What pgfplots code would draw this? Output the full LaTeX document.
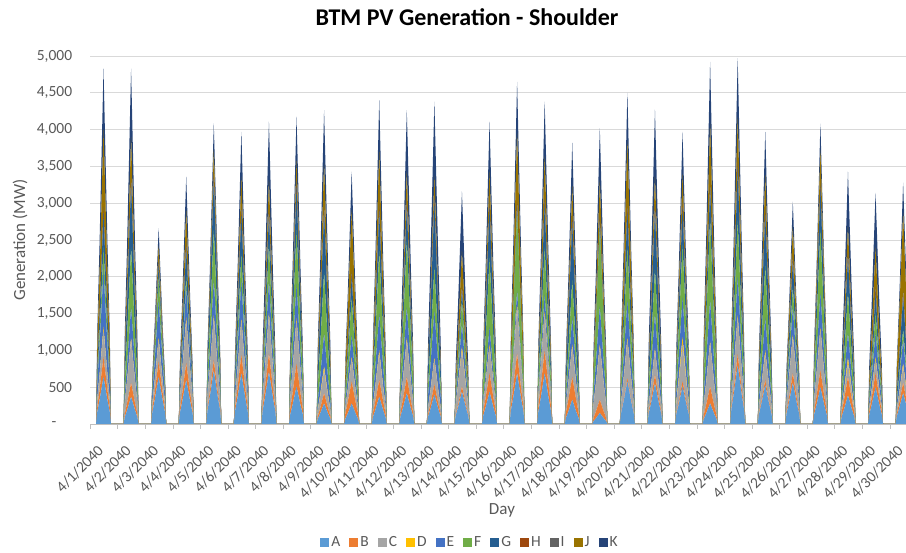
\documentclass[border=0pt]{standalone}
\usepackage{pgfplots}
\pgfplotsset{compat=1.18}
\usepackage{pgfplotstable}
\usepackage{fontspec}
\setmainfont{Carlito}
\definecolor{cA}{HTML}{5B9BD5}
\definecolor{cB}{HTML}{ED7D31}
\definecolor{cC}{HTML}{A5A5A5}
\definecolor{cD}{HTML}{FFC000}
\definecolor{cE}{HTML}{4472C4}
\definecolor{cF}{HTML}{70AD47}
\definecolor{cG}{HTML}{255E91}
\definecolor{cH}{HTML}{9E480E}
\definecolor{cI}{HTML}{636363}
\definecolor{cJ}{HTML}{997300}
\definecolor{cK}{HTML}{264478}
\definecolor{gridgray}{HTML}{D9D9D9}
\definecolor{axisgray}{HTML}{BFBFBF}
\definecolor{labelgray}{HTML}{595959}
\pgfplotstableread{
x A B C D E F G H I J K
5 0 0 0 0 0 0 0 0 0 0 0
6 160 67.5 92.5 10 192.5 77.5 117.5 5 15 262.5 207.5
8 320 135 185 20 385 155 235 10 30 525 415
11.5 640 270 370 40 770 310 470 20 60 1050 830
15 320 135 185 20 385 155 235 10 30 525 415
17 160 67.5 92.5 10 192.5 77.5 117.5 5 15 262.5 207.5
18 0 0 0 0 0 0 0 0 0 0 0
29 0 0 0 0 0 0 0 0 0 0 0
30 92.5 47.5 145 7.5 105 202.5 217.5 5 15 137.5 232.5
32 185 95 290 15 210 405 435 10 30 275 465
35.5 370 190 580 30 420 810 870 20 60 550 930
39 185 95 290 15 210 405 435 10 30 275 465
41 92.5 47.5 145 7.5 105 202.5 217.5 5 15 137.5 232.5
42 0 0 0 0 0 0 0 0 0 0 0
53 0 0 0 0 0 0 0 0 0 0 0
54 160 52.5 72.5 7.5 127.5 80 42.5 2.5 10 50 60
56 320 105 145 15 255 160 85 5 20 100 120
59.5 640 210 290 30 510 320 170 10 40 200 240
63 320 105 145 15 255 160 85 5 20 100 120
65 160 52.5 72.5 7.5 127.5 80 42.5 2.5 10 50 60
66 0 0 0 0 0 0 0 0 0 0 0
77 0 0 0 0 0 0 0 0 0 0 0
78 150 57.5 145 10 102.5 35 100 5 15 105 115
80 300 115 290 20 205 70 200 10 30 210 230
83.5 600 230 580 40 410 140 400 20 60 420 460
87 300 115 290 20 205 70 200 10 30 210 230
89 150 57.5 145 10 102.5 35 100 5 15 105 115
90 0 0 0 0 0 0 0 0 0 0 0
101 0 0 0 0 0 0 0 0 0 0 0
102 182.5 35 145 7.5 120 170 175 5 12.5 77.5 91.25
104 365 70 290 15 240 340 350 10 25 155 182.5
107.5 730 140 580 30 480 680 700 20 50 310 365
111 365 70 290 15 240 340 350 10 25 155 182.5
113 182.5 35 145 7.5 120 170 175 5 12.5 77.5 91.25
114 0 0 0 0 0 0 0 0 0 0 0
125 0 0 0 0 0 0 0 0 0 0 0
126 172.5 62.5 115 7.5 130 90 140 5 15 102.5 152.5
128 345 125 230 15 260 180 280 10 30 205 305
131.5 690 250 460 30 520 360 560 20 60 410 610
135 345 125 230 15 260 180 280 10 30 205 305
137 172.5 62.5 115 7.5 130 90 140 5 15 102.5 152.5
138 0 0 0 0 0 0 0 0 0 0 0
149 0 0 0 0 0 0 0 0 0 0 0
150 177.5 62.5 130 7.5 110 122.5 102.5 5 12.5 97.5 200
152 355 125 260 15 220 245 205 10 25 195 400
155.5 710 250 520 30 440 490 410 20 50 390 800
159 355 125 260 15 220 245 205 10 25 195 400
161 177.5 62.5 130 7.5 110 122.5 102.5 5 12.5 97.5 200
162 0 0 0 0 0 0 0 0 0 0 0
173 0 0 0 0 0 0 0 0 0 0 0
174 127.5 77.5 147.5 7.5 115 185 145 5 15 70 148.75
176 255 155 295 15 230 370 290 10 30 140 297.5
179.5 510 310 590 30 460 740 580 20 60 280 595
183 255 155 295 15 230 370 290 10 30 140 297.5
185 127.5 77.5 147.5 7.5 115 185 145 5 15 70 148.75
186 0 0 0 0 0 0 0 0 0 0 0
197 0 0 0 0 0 0 0 0 0 0 0
198 70 35 77.5 12.5 112.5 207.5 205 5 15 145 181.25
200 140 70 155 25 225 415 410 10 30 290 362.5
203.5 280 140 310 50 450 830 820 20 60 580 725
207 140 70 155 25 225 415 410 10 30 290 362.5
209 70 35 77.5 12.5 112.5 207.5 205 5 15 145 181.25
210 0 0 0 0 0 0 0 0 0 0 0
221 0 0 0 0 0 0 0 0 0 0 0
222 70 75 75 7.5 75 125 75 5 12.5 207.5 130
224 140 150 150 15 150 250 150 10 25 415 260
227.5 280 300 300 30 300 500 300 20 50 830 520
231 140 150 150 15 150 250 150 10 25 415 260
233 70 75 75 7.5 75 125 75 5 12.5 207.5 130
234 0 0 0 0 0 0 0 0 0 0 0
245 0 0 0 0 0 0 0 0 0 0 0
246 92.5 57.5 90 10 125 212.5 137.5 5 15 180 175
248 185 115 180 20 250 425 275 10 30 360 350
251.5 370 230 360 40 500 850 550 20 60 720 700
255 185 115 180 20 250 425 275 10 30 360 350
257 92.5 57.5 90 10 125 212.5 137.5 5 15 180 175
258 0 0 0 0 0 0 0 0 0 0 0
269 0 0 0 0 0 0 0 0 0 0 0
270 105 55 125 7.5 105 225 120 5 15 95 208.75
272 210 110 250 15 210 450 240 10 30 190 417.5
275.5 420 220 500 30 420 900 480 20 60 380 835
279 210 110 250 15 210 450 240 10 30 190 417.5
281 105 55 125 7.5 105 225 120 5 15 95 208.75
282 0 0 0 0 0 0 0 0 0 0 0
293 0 0 0 0 0 0 0 0 0 0 0
294 100 35 82.5 7.5 160 147.5 220 5 15 70 252.5
296 200 70 165 15 320 295 440 10 30 140 505
299.5 400 140 330 30 640 590 880 20 60 280 1010
303 200 70 165 15 320 295 440 10 30 140 505
305 100 35 82.5 7.5 160 147.5 220 5 15 70 252.5
306 0 0 0 0 0 0 0 0 0 0 0
317 0 0 0 0 0 0 0 0 0 0 0
318 110 17.5 122.5 12.5 77.5 80 37.5 2.5 10 117.5 202.5
320 220 35 245 25 155 160 75 5 20 235 405
323.5 440 70 490 50 310 320 150 10 40 470 810
327 220 35 245 25 155 160 75 5 20 235 405
329 110 17.5 122.5 12.5 77.5 80 37.5 2.5 10 117.5 202.5
330 0 0 0 0 0 0 0 0 0 0 0
341 0 0 0 0 0 0 0 0 0 0 0
342 110 62.5 90 7.5 60 235 170 5 15 102.5 170
344 220 125 180 15 120 470 340 10 30 205 340
347.5 440 250 360 30 240 940 680 20 60 410 680
351 220 125 180 15 120 470 340 10 30 205 340
353 110 62.5 90 7.5 60 235 170 5 15 102.5 170
354 0 0 0 0 0 0 0 0 0 0 0
365 0 0 0 0 0 0 0 0 0 0 0
366 172.5 67.5 157.5 7.5 47.5 267.5 25 2.5 10 230 175
368 345 135 315 15 95 535 50 5 20 460 350
371.5 690 270 630 30 190 1070 100 10 40 920 700
375 345 135 315 15 95 535 50 5 20 460 350
377 172.5 67.5 157.5 7.5 47.5 267.5 25 2.5 10 230 175
378 0 0 0 0 0 0 0 0 0 0 0
389 0 0 0 0 0 0 0 0 0 0 0
390 172.5 77.5 125 7.5 60 157.5 150 5 15 140 185
392 345 155 250 15 120 315 300 10 30 280 370
395.5 690 310 500 30 240 630 600 20 60 560 740
399 345 155 250 15 120 315 300 10 30 280 370
401 172.5 77.5 125 7.5 60 157.5 150 5 15 140 185
402 0 0 0 0 0 0 0 0 0 0 0
413 0 0 0 0 0 0 0 0 0 0 0
414 82.5 77.5 102.5 7.5 92.5 125 200 5 15 100 147.5
416 165 155 205 15 185 250 400 10 30 200 295
419.5 330 310 410 30 370 500 800 20 60 400 590
423 165 155 205 15 185 250 400 10 30 200 295
425 82.5 77.5 102.5 7.5 92.5 125 200 5 15 100 147.5
426 0 0 0 0 0 0 0 0 0 0 0
437 0 0 0 0 0 0 0 0 0 0 0
438 37.5 45 180 7.5 130 267.5 25 2.5 7.5 125 177.5
440 75 90 360 15 260 535 50 5 15 250 355
443.5 150 180 720 30 520 1070 100 10 30 500 710
447 75 90 360 15 260 535 50 5 15 250 355
449 37.5 45 180 7.5 130 267.5 25 2.5 7.5 125 177.5
450 0 0 0 0 0 0 0 0 0 0 0
461 0 0 0 0 0 0 0 0 0 0 0
462 145 10 130 7.5 127.5 180 125 5 15 217.5 162.5
464 290 20 260 15 255 360 250 10 30 435 325
467.5 580 40 520 30 510 720 500 20 60 870 650
471 290 20 260 15 255 360 250 10 30 435 325
473 145 10 130 7.5 127.5 180 125 5 15 217.5 162.5
474 0 0 0 0 0 0 0 0 0 0 0
485 0 0 0 0 0 0 0 0 0 0 0
486 137.5 30 82.5 7.5 117.5 150 200 5 15 95 227.5
488 275 60 165 15 235 300 400 10 30 190 455
491.5 550 120 330 30 470 600 800 20 60 380 910
495 275 60 165 15 235 300 400 10 30 190 455
497 137.5 30 82.5 7.5 117.5 150 200 5 15 95 227.5
498 0 0 0 0 0 0 0 0 0 0 0
509 0 0 0 0 0 0 0 0 0 0 0
510 127.5 17.5 127.5 22.5 135 180 125 5 15 95 142.5
512 255 35 255 45 270 360 250 10 30 190 285
515.5 510 70 510 90 540 720 500 20 60 380 570
519 255 35 255 45 270 360 250 10 30 190 285
521 127.5 17.5 127.5 22.5 135 180 125 5 15 95 142.5
522 0 0 0 0 0 0 0 0 0 0 0
533 0 0 0 0 0 0 0 0 0 0 0
534 70 57.5 145 7.5 140 272.5 112.5 2.5 10 202.5 210
536 140 115 290 15 280 545 225 5 20 405 420
539.5 280 230 580 30 560 1090 450 10 40 810 840
543 140 115 290 15 280 545 225 5 20 405 420
545 70 57.5 145 7.5 140 272.5 112.5 2.5 10 202.5 210
546 0 0 0 0 0 0 0 0 0 0 0
557 0 0 0 0 0 0 0 0 0 0 0
558 200 37.5 125 7.5 130 192.5 180 5 15 150 200
560 400 75 250 15 260 385 360 10 30 300 400
563.5 800 150 500 30 520 770 720 20 60 600 800
567 400 75 250 15 260 385 360 10 30 300 400
569 200 37.5 125 7.5 130 192.5 180 5 15 150 200
570 0 0 0 0 0 0 0 0 0 0 0
581 0 0 0 0 0 0 0 0 0 0 0
582 132.5 17.5 90 10 112.5 175 175 5 15 112.5 147.5
584 265 35 180 20 225 350 350 10 30 225 295
587.5 530 70 360 40 450 700 700 20 60 450 590
591 265 35 180 20 225 350 350 10 30 225 295
593 132.5 17.5 90 10 112.5 175 175 5 15 112.5 147.5
594 0 0 0 0 0 0 0 0 0 0 0
605 0 0 0 0 0 0 0 0 0 0 0
606 140 32.5 122.5 7.5 95 67.5 92.5 2.5 10 100 85
608 280 65 245 15 190 135 185 5 20 200 170
611.5 560 130 490 30 380 270 370 10 40 400 340
615 280 65 245 15 190 135 185 5 20 200 170
617 140 32.5 122.5 7.5 95 67.5 92.5 2.5 10 100 85
618 0 0 0 0 0 0 0 0 0 0 0
629 0 0 0 0 0 0 0 0 0 0 0
630 125 57.5 137.5 7.5 117.5 215 145 5 7.5 112.5 90
632 250 115 275 15 235 430 290 10 15 225 180
635.5 500 230 550 30 470 860 580 20 30 450 360
639 250 115 275 15 235 430 290 10 15 225 180
641 125 57.5 137.5 7.5 117.5 215 145 5 7.5 112.5 90
642 0 0 0 0 0 0 0 0 0 0 0
653 0 0 0 0 0 0 0 0 0 0 0
654 97.5 62.5 47.5 17.5 85 135 122.5 2.5 10 90 187.5
656 195 125 95 35 170 270 245 5 20 180 375
659.5 390 250 190 70 340 540 490 10 40 360 750
663 195 125 95 35 170 270 245 5 20 180 375
665 97.5 62.5 47.5 17.5 85 135 122.5 2.5 10 90 187.5
666 0 0 0 0 0 0 0 0 0 0 0
677 0 0 0 0 0 0 0 0 0 0 0
678 125 47.5 45 10 82.5 67.5 67.5 5 17.5 132.5 185
680 250 95 90 20 165 135 135 10 35 265 370
683.5 500 190 180 40 330 270 270 20 70 530 740
687 250 95 90 20 165 135 135 10 35 265 370
689 125 47.5 45 10 82.5 67.5 67.5 5 17.5 132.5 185
690 0 0 0 0 0 0 0 0 0 0 0
701 0 0 0 0 0 0 0 0 0 0 0
702 105 35 55 10 80 35 112.5 5 15 265 102.5
704 210 70 110 20 160 70 225 10 30 530 205
707.5 420 140 220 40 320 140 450 20 60 1060 410
711 210 70 110 20 160 70 225 10 30 530 205
713 105 35 55 10 80 35 112.5 5 15 265 102.5
714 0 0 0 0 0 0 0 0 0 0 0
}\pvdata

\begin{document}
\begin{tikzpicture}
\useasboundingbox (-90.3pt,-129pt) rectangle (815.7pt,424pt);
\begin{axis}[
  at={(0pt,0pt)}, anchor=south west,
  scale only axis, width=815.7pt, height=368pt,
  xmin=0, xmax=710, ymin=0, ymax=5000,
  stack plots=y,
  axis lines*=left,
  x axis line style={draw=axisgray, line width=0.8pt, -},
  y axis line style={draw=none},
  xtick={0,24,...,696},
  xticklabels={4/1/2040,4/2/2040,4/3/2040,4/4/2040,4/5/2040,4/6/2040,4/7/2040,4/8/2040,4/9/2040,4/10/2040,4/11/2040,4/12/2040,4/13/2040,4/14/2040,4/15/2040,4/16/2040,4/17/2040,4/18/2040,4/19/2040,4/20/2040,4/21/2040,4/22/2040,4/23/2040,4/24/2040,4/25/2040,4/26/2040,4/27/2040,4/28/2040,4/29/2040,4/30/2040},
  ytick={0,500,...,5000},
  yticklabels={{-\hphantom{00}},500,{1,000},{1,500},{2,000},{2,500},{3,000},{3,500},{4,000},{4,500},{5,000}},
  tick align=outside,
  major tick length=5pt,
  xtick style={draw=axisgray, line width=0.8pt},
  ytick style={draw=none},
  ymajorgrids,
  major grid style={draw=gridgray, line width=0.8pt},
  tick label style={font=\fontsize{15.5}{18}\selectfont, text=labelgray},
  xticklabel style={rotate=45, anchor=north east, inner sep=0pt, xshift=-6pt, yshift=-15pt},
  yticklabel style={anchor=east, inner sep=0pt, xshift=-13pt},
  title={BTM PV Generation - Shoulder},
  title style={at={(axis description cs:0.4618,1.0679)}, anchor=base, font=\fontsize{24}{28}\selectfont\bfseries, text=black},
  xlabel={Day},
  ylabel={Generation (MW)},
  every axis x label/.style={at={(axis description cs:0.5047,-0.2337)}, anchor=center, font=\fontsize{17}{20}\selectfont, text=labelgray},
  every axis y label/.style={at={(axis description cs:-0.0862,0.5)}, rotate=90, anchor=center, font=\fontsize{17}{20}\selectfont, text=labelgray},
  legend columns=11,
  legend image code/.code={\fill[#1] (0pt,-4.5pt) rectangle (9pt,4.5pt);},
  legend style={at={(axis description cs:0.4655,-0.3207)}, anchor=center, draw=none, fill=none,
    font=\fontsize{15.5}{18}\selectfont, text=labelgray, inner sep=0pt,
    /tikz/every even column/.append style={column sep=7pt},
    nodes={inner sep=2pt}},
]
\addplot[draw=none, fill=cA] table[x=x,y=A]{\pvdata} \closedcycle;
\addplot[draw=none, fill=cB] table[x=x,y=B]{\pvdata} \closedcycle;
\addplot[draw=none, fill=cC] table[x=x,y=C]{\pvdata} \closedcycle;
\addplot[draw=none, fill=cD] table[x=x,y=D]{\pvdata} \closedcycle;
\addplot[draw=none, fill=cE] table[x=x,y=E]{\pvdata} \closedcycle;
\addplot[draw=none, fill=cF] table[x=x,y=F]{\pvdata} \closedcycle;
\addplot[draw=none, fill=cG] table[x=x,y=G]{\pvdata} \closedcycle;
\addplot[draw=none, fill=cH] table[x=x,y=H]{\pvdata} \closedcycle;
\addplot[draw=none, fill=cI] table[x=x,y=I]{\pvdata} \closedcycle;
\addplot[draw=none, fill=cJ] table[x=x,y=J]{\pvdata} \closedcycle;
\addplot[draw=none, fill=cK] table[x=x,y=K]{\pvdata} \closedcycle;
\legend{A,B,C,D,E,F,G,H,I,J,K}
\end{axis}
\end{tikzpicture}
\end{document}
